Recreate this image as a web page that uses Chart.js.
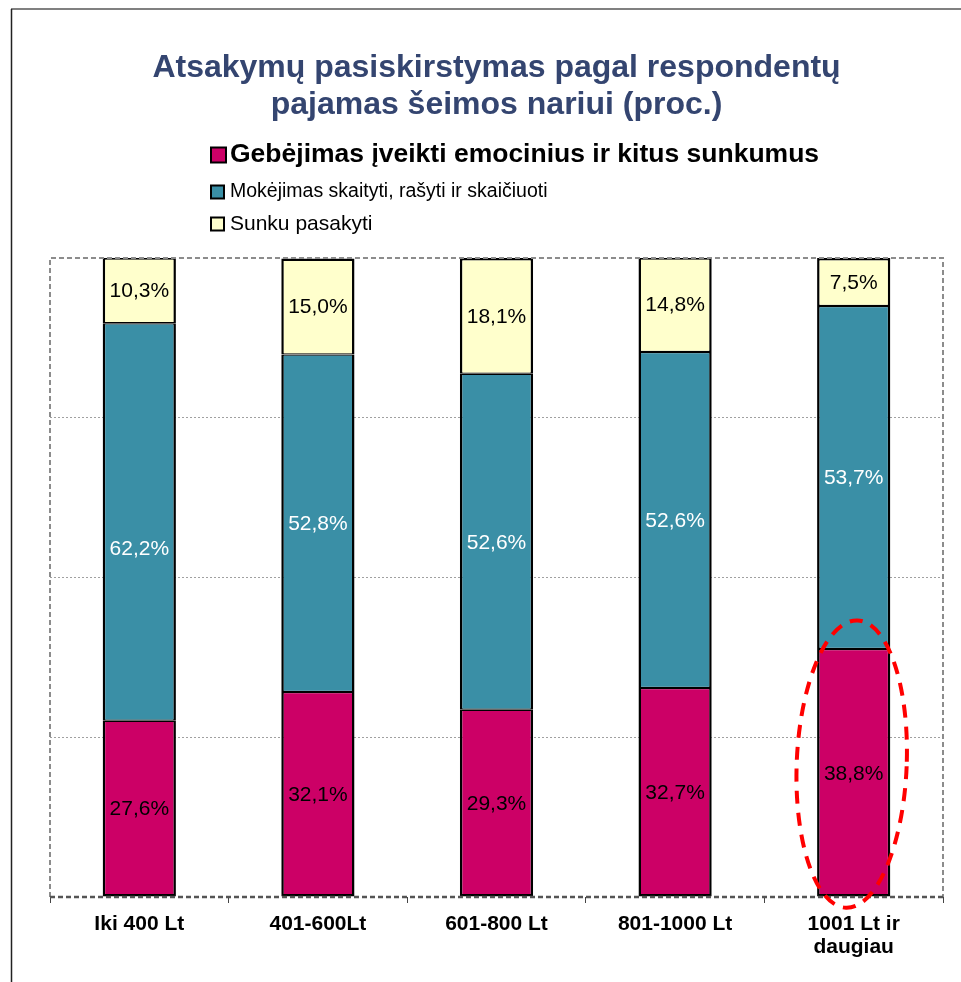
<!DOCTYPE html>
<html>
<head>
<meta charset="utf-8">
<script src="https://cdn.jsdelivr.net/npm/chart.js@4"></script>
<style>
    html, body { margin: 0; padding: 0; background: #fff; }
    #wrap { width: 961px; height: 982px; }
</style>
</head>
<body>
<div id="wrap"><canvas id="incomeChart" width="961" height="982"></canvas></div>
<script>
const categories = ["Iki 400 Lt", "401-600Lt", "601-800 Lt", "801-1000 Lt", ["1001 Lt ir", "daugiau"]];
const seriesNames = [
    "Gebėjimas įveikti emocinius ir kitus sunkumus",
    "Mokėjimas skaityti, rašyti ir skaičiuoti",
    "Sunku pasakyti"
];
const copingValues = [27.6, 32.1, 29.3, 32.7, 38.8];
const literacyValues = [62.2, 52.8, 52.6, 52.6, 53.7];
const unsureValues = [10.3, 15.0, 18.1, 14.8, 7.5];
const yTicks = [0, 25, 50, 75, 100];

const COLORS = ["#CC0066", "#3A8FA6", "#FFFFCC"];
const LABEL_COLORS = ["#000", "#fff", "#000"];
const FONT = "Arial, 'Liberation Sans', sans-serif";

// frame around the slide + dashed plot border
const framePlugin = {
    id: "frame",
    beforeDraw(chart) {
        const ctx = chart.ctx;
        ctx.save();
        ctx.fillStyle = "#fff";
        ctx.fillRect(0, 0, chart.width, chart.height);
        ctx.strokeStyle = "#808080";
        ctx.lineWidth = 2;
        ctx.beginPath();
        ctx.moveTo(11, 9);
        ctx.lineTo(chart.width, 9);
        ctx.stroke();
        ctx.strokeStyle = "#222";
        ctx.lineWidth = 1.5;
        ctx.beginPath();
        ctx.moveTo(11.5, 9);
        ctx.lineTo(11.5, chart.height);
        ctx.stroke();
        ctx.restore();
    },
    afterDraw(chart) {
        const { ctx, chartArea: a } = chart;
        ctx.save();
        ctx.setLineDash([5, 3]);
        ctx.lineWidth = 2;
        ctx.strokeStyle = "#8c8c8c";
        ctx.beginPath();
        ctx.moveTo(a.left, a.bottom);
        ctx.lineTo(a.left, a.top);
        ctx.lineTo(a.right, a.top);
        ctx.lineTo(a.right, a.bottom);
        ctx.stroke();
        ctx.strokeStyle = "#555";
        ctx.lineWidth = 2.5;
        ctx.beginPath();
        ctx.moveTo(a.left, a.bottom);
        ctx.lineTo(a.right, a.bottom);
        ctx.stroke();
        ctx.restore();
    }
};

// legend drawn by hand: each entry has its own font size
const legendPlugin = {
    id: "customLegend",
    afterDraw(chart) {
        const ctx = chart.ctx;
        const items = [
            { y: 155, box: 15, font: "bold 26.5px " + FONT },
            { y: 192, box: 13, font: "19.5px " + FONT },
            { y: 224, box: 13, font: "21px " + FONT }
        ];
        ctx.save();
        items.forEach((it, i) => {
            ctx.fillStyle = COLORS[i];
            ctx.fillRect(211, it.y - it.box / 2, it.box, it.box);
            ctx.strokeStyle = "#000";
            ctx.lineWidth = 2;
            ctx.strokeRect(211, it.y - it.box / 2, it.box, it.box);
            ctx.fillStyle = "#000";
            ctx.font = it.font;
            ctx.textBaseline = "middle";
            ctx.textAlign = "left";
            ctx.fillText(seriesNames[i], 230, it.y);
        });
        ctx.restore();
    }
};

// value labels inside the segments
const valueLabelPlugin = {
    id: "valueLabels",
    afterDatasetsDraw(chart) {
        const ctx = chart.ctx;
        ctx.save();
        ctx.font = "21px " + FONT;
        ctx.textAlign = "center";
        ctx.textBaseline = "middle";
        chart.data.datasets.forEach((ds, di) => {
            const meta = chart.getDatasetMeta(di);
            meta.data.forEach((bar, i) => {
                let y = (bar.y + bar.base) / 2 + 1;
                if (di === 1 && i === 0) y += 26; // label was moved down in the original
                ctx.fillStyle = LABEL_COLORS[di];
                ctx.fillText(ds.data[i].toFixed(1).replace(".", ",") + "%", bar.x, y);
            });
        });
        ctx.restore();
    }
};

// red dashed ellipse around the last bar
const highlightPlugin = {
    id: "highlight",
    afterDraw(chart) {
        const { ctx, scales: { x, y } } = chart;
        const cx = x.getPixelForValue(4) - 2;
        const top = y.getPixelForValue(43.3);
        const bottom = y.getPixelForValue(-1.7);
        const ry = (bottom - top) / 2;
        const rx = 55;
        ctx.save();
        ctx.strokeStyle = "#FF0000";
        ctx.lineWidth = 4;
        ctx.setLineDash([13, 9]);
        ctx.beginPath();
        ctx.ellipse(cx, top + ry, rx, ry, 0.04, 0, Math.PI * 2);
        ctx.stroke();
        ctx.restore();
    }
};

// outer edges 2.5px, shared edges split so the junction is a single 2.5px line
const edgeWidths = [
    { top: 1.25, bottom: 2.5, left: 2.5, right: 2.5 },
    { top: 1.25, bottom: 1.25, left: 2.5, right: 2.5 },
    { top: 2.5, bottom: 1.25, left: 2.5, right: 2.5 }
];

const datasets = [copingValues, literacyValues, unsureValues].map((vals, i) => ({
    label: seriesNames[i],
    data: vals,
    backgroundColor: COLORS[i],
    borderColor: "#000",
    borderWidth: edgeWidths[i],
    borderSkipped: false,
    barPercentage: 0.41,
    categoryPercentage: 1
}));

new Chart(document.getElementById("incomeChart"), {
    type: "bar",
    data: { labels: categories, datasets },
    options: {
        responsive: false,
        animation: false,
        layout: { padding: { left: 50, right: 18, top: 0, bottom: 0 } },
        plugins: {
            legend: { display: false },
            tooltip: { enabled: false },
            title: {
                display: true,
                text: ["Atsakymų pasiskirstymas pagal respondentų", "pajamas šeimos nariui (proc.)"],
                color: "#344570",
                font: { family: FONT, size: 32, weight: "bold", lineHeight: 1.156 },
                padding: { top: 49.5, bottom: 134.5 }
            }
        },
        scales: {
            x: {
                stacked: true,
                grid: { drawOnChartArea: false, drawTicks: true, tickLength: 6, color: "#444", lineWidth: 1 },
                border: { display: false },
                ticks: {
                    color: "#000",
                    padding: 10,
                    maxRotation: 0,
                    font: { family: FONT, size: 21, weight: "bold", lineHeight: 1.1 }
                },
                afterFit: (s) => { s.height = 85; }
            },
            y: {
                stacked: true,
                min: 0,
                max: 100,
                afterBuildTicks: (s) => { s.ticks = yTicks.map(v => ({ value: v })); },
                ticks: { display: false },
                grid: {
                    drawTicks: false,
                    color: (c) => (c.tick && (c.tick.value === 0 || c.tick.value === 100)) ? "rgba(0,0,0,0)" : "#a0a0a0",
                    lineWidth: 1
                },
                border: { display: false, dash: [2, 2] },
                afterFit: (s) => { s.width = 0; }
            }
        }
    },
    plugins: [framePlugin, legendPlugin, valueLabelPlugin, highlightPlugin]
});
</script>
</body>
</html>
